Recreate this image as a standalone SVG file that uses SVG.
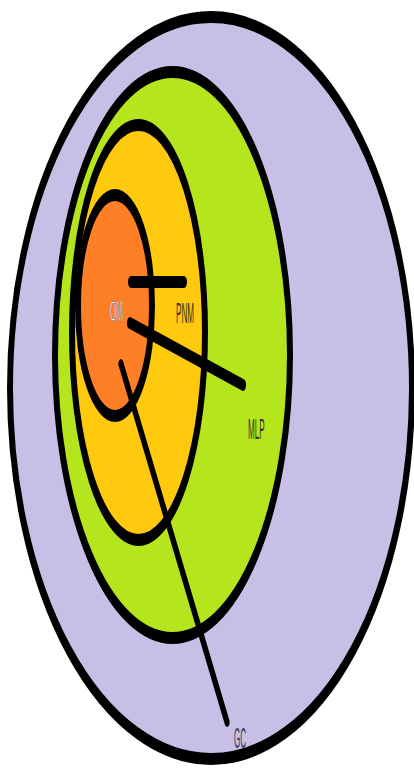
<svg xmlns="http://www.w3.org/2000/svg" width="414" height="772" viewBox="0 0 414 772">
  <style>
    .ring { stroke: #000; stroke-width: 12; }
    .conn { stroke: #000; stroke-linecap: round; fill: none; }
    .lbl { font-family: "Liberation Sans", Arial, sans-serif; font-size: 29px; }
    .dark { fill: #3a3020; }
  </style>
  <rect x="0" y="0" width="414" height="772" fill="#ffffff"/>
  <g id="node-gc">
    <ellipse class="ring" transform="scale(0.5,1)" cx="422" cy="388" rx="402" ry="371" fill="#c8bfe7"/>
  </g>
  <g id="node-mlp">
    <ellipse class="ring" transform="scale(0.5,1)" cx="345" cy="355" rx="235" ry="283" fill="#b5e61d"/>
  </g>
  <g id="node-pnm">
    <ellipse class="ring" transform="scale(0.5,1)" cx="277" cy="332.5" rx="133" ry="207.5" fill="#ffc90e"/>
  </g>
  <g id="node-om">
    <ellipse class="ring" transform="scale(0.5,1)" cx="230" cy="305.5" rx="74" ry="110.5" fill="#ff7f27"/>
  </g>
  <g id="connectors" transform="scale(0.5,1)">
    <line class="conn" x1="262" y1="282" x2="368" y2="282" stroke-width="12"/>
    <line class="conn" x1="260" y1="323" x2="486" y2="385" stroke-width="12"/>
    <line class="conn" x1="242" y1="364" x2="454" y2="722" stroke-width="10"/>
  </g>
  <g id="labels">
    <text class="lbl" transform="translate(110,321) scale(0.28,1)" fill="#ffffff" stroke="#2a3570" stroke-width="0.7">OM</text>
    <text class="lbl dark" transform="translate(176,323) scale(0.28,1)">PNM</text>
    <text class="lbl dark" transform="translate(248,439) scale(0.28,1)">MLP</text>
    <text class="lbl" transform="translate(234,748) scale(0.28,1)" fill="#3c3c5a">GC</text>
  </g>
</svg>
